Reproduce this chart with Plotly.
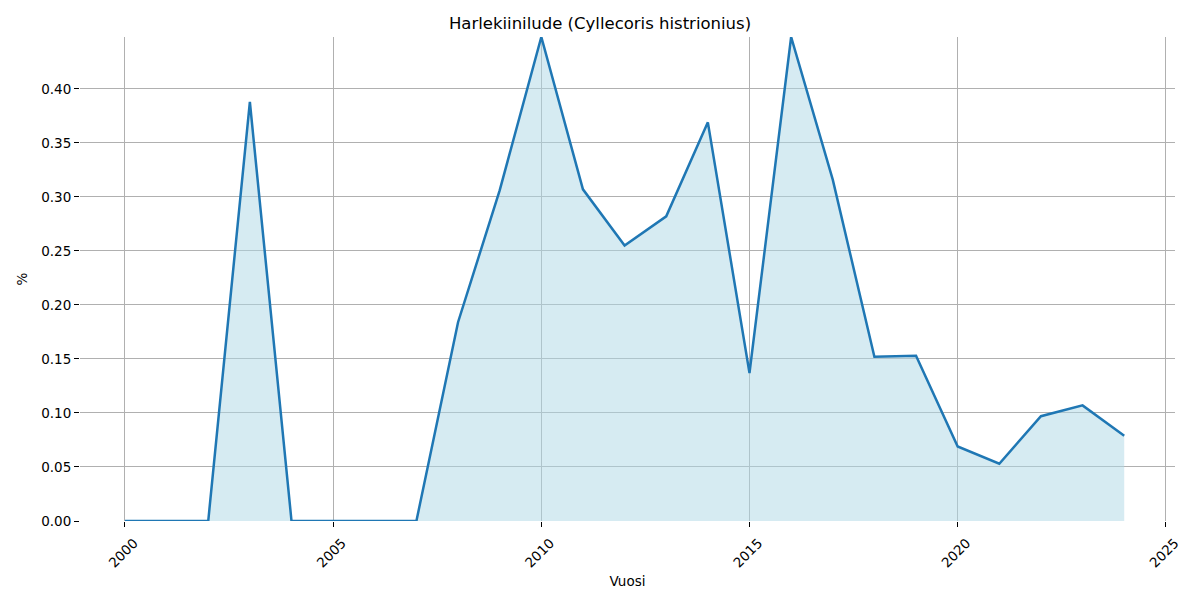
import plotly.graph_objects as go

years = list(range(2000, 2025))
values = [0, 0, 0, 0.388, 0, 0, 0, 0, 0.184, 0.306, 0.448, 0.307, 0.255, 0.282,
          0.369, 0.137, 0.448, 0.316, 0.152, 0.153, 0.069, 0.053, 0.097, 0.107, 0.079]
x_ticks = [2000, 2005, 2010, 2015, 2020, 2025]
y_ticks = [0.0, 0.05, 0.10, 0.15, 0.20, 0.25, 0.30, 0.35, 0.40]

fig = go.Figure()
fig.add_trace(go.Scatter(x=years, y=values, mode="lines", fill="tozeroy",
                         fillcolor="rgba(173,216,230,0.5)",
                         line=dict(color="#1f77b4", width=2.5), showlegend=False))

font = "DejaVu Sans"
fig.update_layout(
    width=1200, height=600,
    margin=dict(l=80, r=25, t=37, b=79, autoexpand=False),
    plot_bgcolor="white", paper_bgcolor="white",
    font=dict(family=font, size=13.5, color="black"),
    title=dict(text="Harlekiinilude (Cyllecoris histrionius)", x=0.5, xanchor="center",
               y=1 - 23/600, yanchor="middle", font=dict(size=16.5, family=font)),
    xaxis=dict(range=[1998.92, 2025.22], tickvals=x_ticks, ticktext=[str(t) for t in x_ticks],
               tickangle=-45, showgrid=True, gridcolor="#b0b0b0", gridwidth=1,
               ticks="outside", ticklen=5, tickcolor="black", zeroline=False,
               showline=False, automargin=False, ticklabelshift=9, ticklabelstandoff=3,
               title=dict(text="Vuosi", standoff=6, font=dict(size=13.5))),
    yaxis=dict(range=[0, 0.448], tickvals=y_ticks, ticktext=[f"{t:.2f}" for t in y_ticks],
               showgrid=True, gridcolor="#b0b0b0", gridwidth=1,
               ticks="outside", ticklen=5, tickcolor="black", zeroline=False,
               showline=False, automargin=False,
               title=dict(text="%", standoff=10, font=dict(size=13.5))),
)
fig.write_html("out.html", config={"displayModeBar": False},
               post_script="document.body.style.margin='0';document.body.style.overflow='hidden';")
